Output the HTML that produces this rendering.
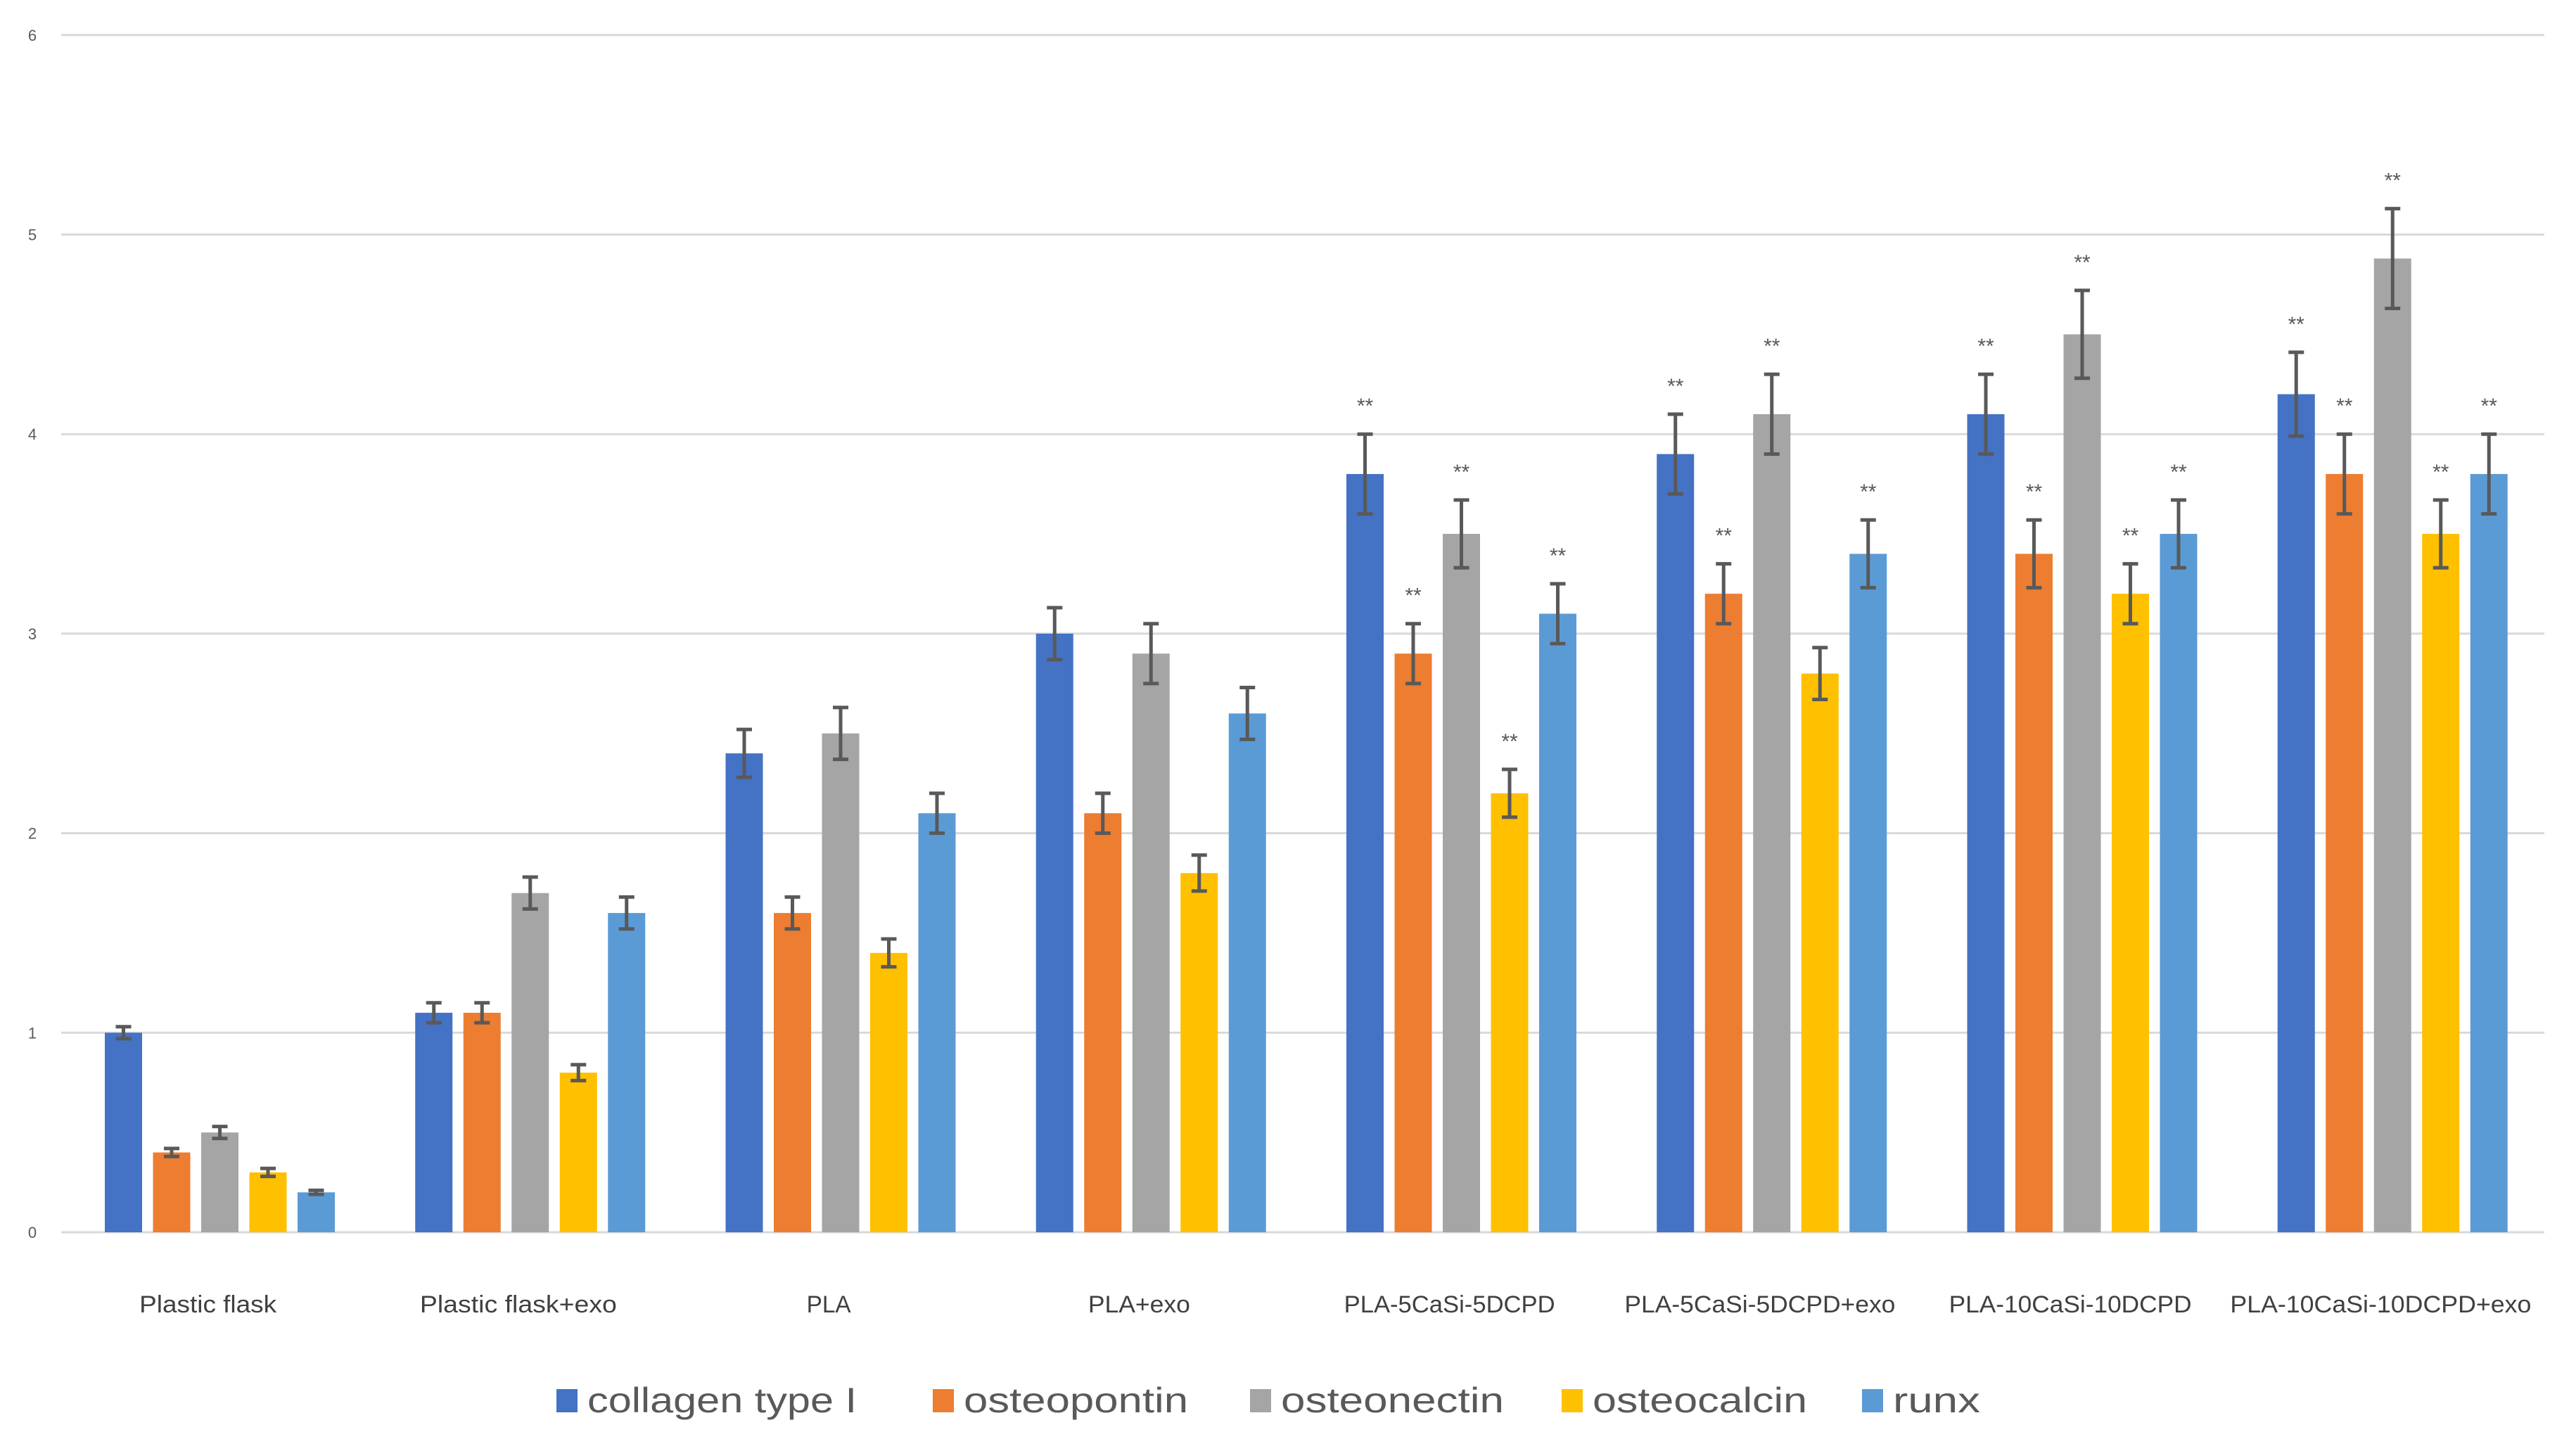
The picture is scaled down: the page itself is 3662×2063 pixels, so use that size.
<!DOCTYPE html>
<html><head><meta charset="utf-8"><style>
html,body{margin:0;padding:0;background:#fff;}
svg{display:block;font-family:"Liberation Sans",sans-serif;}
</style></head><body>
<svg id="chart" width="3662" height="2063" viewBox="0 0 3662 2063" xmlns="http://www.w3.org/2000/svg">
<g id="grid"></g>
<g id="yaxis"></g>
<g id="bars"></g>
<g id="xaxis"></g>
<g id="legend"></g>
</svg>
<script>
const categories = ["Plastic flask","Plastic flask+exo","PLA","PLA+exo","PLA-5CaSi-5DCPD","PLA-5CaSi-5DCPD+exo","PLA-10CaSi-10DCPD","PLA-10CaSi-10DCPD+exo"];
const seriesNames = ["collagen type I","osteopontin","osteonectin","osteocalcin","runx"];
const collagen = [1.0,1.1,2.4,3.0,3.8,3.9,4.1,4.2];
const osteopontin = [0.4,1.1,1.6,2.1,2.9,3.2,3.4,3.8];
const osteonectin = [0.5,1.7,2.5,2.9,3.5,4.1,4.5,4.88];
const osteocalcin = [0.3,0.8,1.4,1.8,2.2,2.8,3.2,3.5];
const runx = [0.2,1.6,2.1,2.6,3.1,3.4,3.5,3.8];
const errCollagen = [0.03,0.05,0.12,0.13,0.2,0.2,0.2,0.21];
const errOsteopontin = [0.02,0.05,0.08,0.1,0.15,0.15,0.17,0.2];
const errOsteonectin = [0.03,0.08,0.13,0.15,0.17,0.2,0.22,0.25];
const errOsteocalcin = [0.02,0.04,0.07,0.09,0.12,0.13,0.15,0.17];
const errRunx = [0.01,0.08,0.1,0.13,0.15,0.17,0.17,0.2];
const starsCollagen = [0,0,0,0,1,1,1,1];
const starsOsteopontin = [0,0,0,0,1,1,1,1];
const starsOsteonectin = [0,0,0,0,1,1,1,1];
const starsOsteocalcin = [0,0,0,0,1,0,1,1];
const starsRunx = [0,0,0,0,1,1,1,1];
const yTicks = [0,1,2,3,4,5,6];

const series = [collagen,osteopontin,osteonectin,osteocalcin,runx];
const errs = [errCollagen,errOsteopontin,errOsteonectin,errOsteocalcin,errRunx];
const stars = [starsCollagen,starsOsteopontin,starsOsteonectin,starsOsteocalcin,starsRunx];
const colors = ["#4472c4","#ed7d31","#a5a5a5","#ffc000","#5b9bd5"];
const NS="http://www.w3.org/2000/svg";
const plotL=87, plotR=3617, y0=1752, unit=283.7;
const catW=(plotR-plotL)/categories.length;
const barW=53, pitch=68.5, off=62;
function y(v){return y0-v*unit;}
function xCat(i){return plotL+i*catW;}
function mk(tag,parent){const e=document.createElementNS(NS,tag);parent.appendChild(e);return e;}

const grid=document.getElementById('grid'), yaxis=document.getElementById('yaxis');
yTicks.forEach(t=>{
  const l=mk('line',grid);
  
  
  l.setAttribute('x1',plotL);l.setAttribute('x2',plotR);l.setAttribute('y1',y(t));l.setAttribute('y2',y(t));
  l.setAttribute('stroke','#d9d9d9');l.setAttribute('stroke-width','3');
  const tx=mk('text',yaxis);
  
  
  tx.setAttribute('x',46);tx.setAttribute('y',y(t)+8);tx.setAttribute('text-anchor','middle');
  tx.setAttribute('font-size','22');tx.setAttribute('fill','#595959');tx.textContent=t;
});

const bars=document.getElementById('bars');
series.forEach((s,si)=>{
  s.forEach((v,ci)=>{
    const x=xCat(ci)+off+si*pitch;
    const r=mk('rect',bars);
    
    
    r.setAttribute('x',x);r.setAttribute('width',barW);r.setAttribute('y',y(v));r.setAttribute('height',y0-y(v));
    r.setAttribute('fill',colors[si]);
    const e=errs[si][ci], cx=x+barW/2;
    const eb=mk('path',bars);
    
    
    eb.setAttribute('d',`M${cx},${y(v+e)}V${y(v-e)}M${cx-11},${y(v+e)}H${cx+11}M${cx-11},${y(v-e)}H${cx+11}`);
    eb.setAttribute('stroke','#595959');eb.setAttribute('stroke-width','5');eb.setAttribute('fill','none');
    if(stars[si][ci]){
      const st=mk('text',bars);
      
      
      st.setAttribute('x',cx);st.setAttribute('y',y(v+e)-30);st.setAttribute('text-anchor','middle');
      st.setAttribute('font-size','30');st.setAttribute('fill','#595959');
      st.textContent='**';
    }
  });
});

const xaxis=document.getElementById('xaxis');
const catLen=[195,280,63,145,300,385,345,428];
categories.forEach((c,ci)=>{
  const t=mk('text',xaxis);
  
  
  t.setAttribute('x',xCat(ci)+catW/2-12);t.setAttribute('y',1866);t.setAttribute('text-anchor','middle');
  t.setAttribute('font-size','34');t.setAttribute('fill','#404040');
  t.setAttribute('textLength',catLen[ci]);t.setAttribute('lengthAdjust','spacingAndGlyphs');
  t.textContent=c;
});

const legend=document.getElementById('legend');
const legX=[791,1326,1777,2220,2647];
const legLen=[383,319,317,305,124];
seriesNames.forEach((n,i)=>{
  const r=mk('rect',legend);
  
  
  r.setAttribute('x',legX[i]);r.setAttribute('y',1975);r.setAttribute('width',30);r.setAttribute('height',33);
  r.setAttribute('fill',colors[i]);
  const t=mk('text',legend);
  
  
  t.setAttribute('x',legX[i]+44);t.setAttribute('y',2008);t.setAttribute('font-size','50');t.setAttribute('fill','#595959');
  t.setAttribute('textLength',legLen[i]);t.setAttribute('lengthAdjust','spacingAndGlyphs');
  t.textContent=n;
});
</script>
</body></html>
